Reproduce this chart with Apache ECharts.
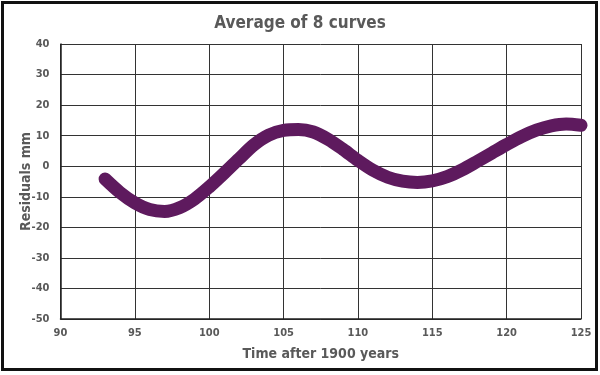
<!DOCTYPE html>
<html>
<head>
<meta charset="utf-8">
<script src="https://cdn.jsdelivr.net/npm/echarts@6/dist/echarts.min.js"></script>
<style>
  html, body { margin: 0; padding: 0; background: #fff; }
  #frame { position: absolute; left: 1px; top: 1px; width: 597px; height: 370px; box-sizing: border-box; border: 3px solid #111; }
  #chart { position: absolute; left: 0; top: 0; width: 600px; height: 375px; }
</style>
</head>
<body>
<div id="frame"></div>
<div id="chart"></div>
<script>
const years = [93, 94, 95, 96, 97, 98, 99, 100, 101, 102, 103, 104, 105, 106, 107, 108, 109,
  110, 111, 112, 113, 114, 115, 116, 117, 118, 119, 120, 121, 122, 123, 124, 125]
const residuals = [-4.2, -8.6, -12, -14.2, -14.8, -13.6, -10.8, -6.8, -2.3, 2.4, 7, 10.2, 11.7, 12, 11.2, 8.8, 5.5,
  1.9, -1.3, -3.6, -4.9, -5.3, -4.8, -3.4, -1.2, 1.5, 4.3, 7.1, 9.7, 11.8, 13.2, 13.8, 13.4]
const xTicks = { min: 90, max: 125, step: 5 }
const yTicks = { min: -50, max: 40, step: 10 }

const font = "'DejaVu Sans Condensed', 'Liberation Sans Narrow', sans-serif"
const grey = '#595959'
const gridLine = { lineStyle: { color: '#333', width: 1 } }

const chart = echarts.init(document.getElementById('chart'))
chart.setOption({
  animation: false,
  title: {
    text: 'Average of 8 curves', left: 'center', top: 10,
    textStyle: { fontFamily: font, fontSize: 17, fontWeight: 'bold', color: grey },
  },
  grid: { left: 60.5, right: 19, top: 44, bottom: 56 },
  xAxis: {
    type: 'value', min: xTicks.min, max: xTicks.max, interval: xTicks.step,
    name: 'Time after 1900 years', nameLocation: 'middle', nameGap: 28,
    nameTextStyle: { fontFamily: font, fontSize: 14, fontWeight: 'bold', color: grey },
    axisLine: { show: true, onZero: false, lineStyle: { color: '#222', width: 1.5 } },
    axisTick: { show: false },
    axisLabel: { fontFamily: font, fontSize: 11, fontWeight: 'bold', color: grey, margin: 9 },
    splitLine: { show: true, ...gridLine },
  },
  yAxis: {
    type: 'value', min: yTicks.min, max: yTicks.max, interval: yTicks.step,
    name: 'Residuals mm', nameLocation: 'middle', nameGap: 27, nameMoveOverlap: false,
    nameTextStyle: { fontFamily: font, fontSize: 14, fontWeight: 'bold', color: grey },
    axisLine: { show: true, onZero: false, lineStyle: { color: '#222', width: 1.5 } },
    axisTick: { show: false },
    axisLabel: { fontFamily: font, fontSize: 11, fontWeight: 'bold', color: grey, margin: 11 },
    splitLine: { show: true, ...gridLine },
  },
  series: [{
    type: 'line',
    data: years.map((y, i) => [y, residuals[i]]),
    smooth: 0.3,
    showSymbol: false,
    lineStyle: { color: '#5e1a5e', width: 13, cap: 'round', join: 'round' },
  }],
})
</script>
</body>
</html>
